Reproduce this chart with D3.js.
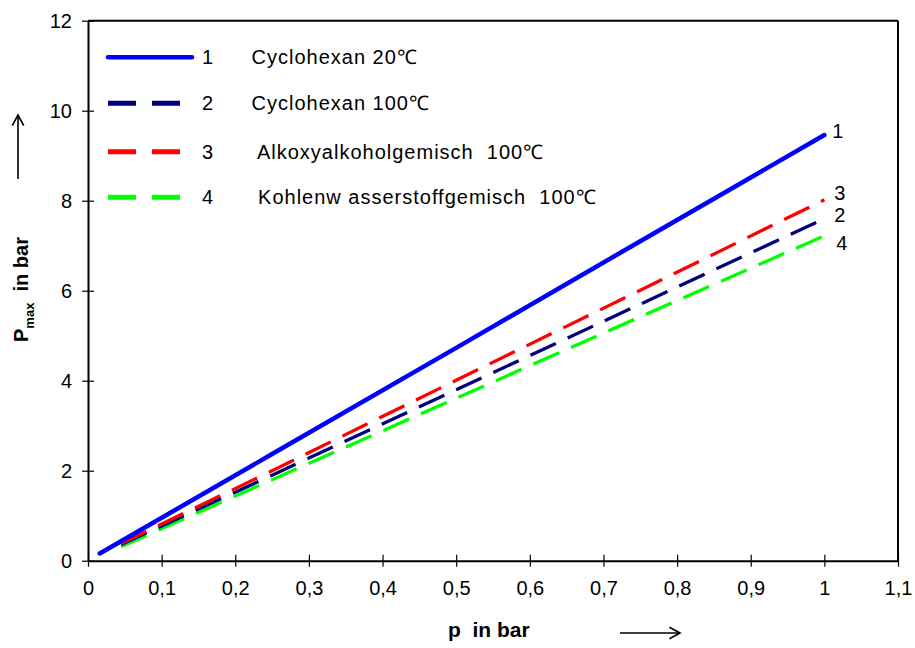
<!DOCTYPE html>
<html>
<head>
<meta charset="utf-8">
<script src="https://cdn.jsdelivr.net/npm/d3@7"></script>
<style>
  html, body { margin: 0; padding: 0; background: #fff; }
  svg { display: block; font-family: "Liberation Sans", Arial, sans-serif; }
</style>
</head>
<body>
<svg id="chart" width="915" height="648"></svg>
<script>
// Pressure values p (bar) for each curve
const pLine1 = [0.016, 0.25, 0.5, 0.75, 1.0];
const pLine2 = [0.045, 0.25, 0.5, 0.75, 1.0];
const pLine3 = [0.045, 0.25, 0.5, 0.75, 1.0];
const pLine4 = [0.045, 0.25, 0.5, 0.75, 1.0];

// Maximum explosion pressure P_max (bar)
const pmax1 = [0.16, 2.37, 4.73, 7.10, 9.46];
const pmax2 = [0.36, 1.90, 3.80, 5.70, 7.60];
const pmax3 = [0.38, 2.00, 4.01, 6.01, 8.02];
const pmax4 = [0.31, 1.80, 3.61, 5.42, 7.22];

const seriesNumbers = ["1", "2", "3", "4"];
const seriesNames = ["Cyclohexan 20\u2103", "Cyclohexan 100\u2103",
                     " Alkoxyalkoholgemisch  100\u2103", " Kohlenw asserstoffgemisch  100\u2103"];
const seriesColors = ["#0000ff", "#000080", "#ff0000", "#00ff00"];
const seriesDashed = [false, true, true, true];

const xTicks = [0, 0.1, 0.2, 0.3, 0.4, 0.5, 0.6, 0.7, 0.8, 0.9, 1.0, 1.1];
const xTickLabels = ["0", "0,1", "0,2", "0,3", "0,4", "0,5", "0,6", "0,7", "0,8", "0,9", "1", "1,1"];
const yTicks = [0, 2, 4, 6, 8, 10, 12];

const series = [
  { p: pLine1, v: pmax1 },
  { p: pLine2, v: pmax2 },
  { p: pLine3, v: pmax3 },
  { p: pLine4, v: pmax4 }
].map((s, i) => ({
  num: seriesNumbers[i], name: seriesNames[i], color: seriesColors[i], dashed: seriesDashed[i],
  points: s.p.map((p, j) => ({ p, v: s.v[j] }))
}));

const svg = d3.select("#chart");
const plotLeft = 88, plotRight = 898, plotTop = 20.7, plotBottom = 560.7;

const x = d3.scaleLinear().domain([0, 1.1]).range([plotLeft, plotRight]);
const y = d3.scaleLinear().domain([0, 12]).range([plotBottom, plotTop]);

// Frame: top and right border
svg.append("line").attr("x1", plotLeft).attr("x2", plotRight).attr("y1", plotTop).attr("y2", plotTop)
  .attr("stroke", "#000").attr("stroke-width", 2);
svg.append("line").attr("x1", plotRight).attr("x2", plotRight).attr("y1", plotTop).attr("y2", plotBottom)
  .attr("stroke", "#000").attr("stroke-width", 2);

// X axis
const xAxis = d3.axisBottom(x).tickValues(xTicks)
  .tickFormat((d, i) => xTickLabels[i]).tickSize(6).tickPadding(22).tickSizeOuter(0);
const gx = svg.append("g").attr("transform", `translate(0,${plotBottom})`).call(xAxis);
gx.select(".domain").attr("stroke-width", 2);
gx.selectAll(".tick line").attr("y1", -6).attr("y2", 6).attr("stroke-width", 1.2);
gx.selectAll(".tick text").attr("font-size", 20).attr("font-family", "Liberation Sans, Arial, sans-serif")
  .attr("fill", "#000").attr("dy", "0.71em").attr("y", 20);

// Y axis
const yAxis = d3.axisLeft(y).tickValues(yTicks).tickSize(6).tickPadding(16).tickSizeOuter(0);
const gy = svg.append("g").attr("transform", `translate(${plotLeft},0)`).call(yAxis);
gy.select(".domain").attr("stroke-width", 2);
gy.selectAll(".tick line").attr("x1", -6).attr("x2", 6).attr("stroke-width", 1.2);
gy.selectAll(".tick text").attr("font-size", 20).attr("font-family", "Liberation Sans, Arial, sans-serif")
  .attr("fill", "#000").attr("x", -16);

// Curves
const line = d3.line().x(d => x(d.p)).y(d => y(d.v));
const order = [3, 1, 2, 0];
order.forEach(i => {
  const s = series[i];
  svg.append("path").datum(s.points)
    .attr("d", line)
    .attr("fill", "none")
    .attr("stroke", s.color)
    .attr("stroke-width", s.dashed ? 3.3 : 4.5)
    .attr("stroke-linecap", s.dashed ? "butt" : "round")
    .attr("stroke-dasharray", s.dashed ? "28,13" : null);
});

// End labels next to the curves
const endDx = [8, 10, 10, 12];
const endDy = [-4.5, -3.5, -7, 7];
series.forEach((s, i) => {
  const last = s.points[s.points.length - 1];
  svg.append("text")
    .attr("x", x(last.p) + endDx[i])
    .attr("y", y(last.v) + endDy[i])
    .attr("dy", "0.35em")
    .attr("font-size", 20)
    .attr("fill", "#000")
    .text(s.num);
});

// Legend
const legY = [57.3, 103.3, 151.7, 197.3];
series.forEach((s, i) => {
  const g = svg.append("g");
  g.append("line")
    .attr("x1", 108).attr("x2", s.dashed ? 181 : 192)
    .attr("y1", legY[i]).attr("y2", legY[i])
    .attr("stroke", s.color)
    .attr("stroke-width", s.dashed ? 5 : 4.5)
    .attr("stroke-linecap", s.dashed ? "butt" : "round")
    .attr("stroke-dasharray", s.dashed ? "28,16" : null);
  g.append("text").attr("x", 202).attr("y", legY[i]).attr("dy", "0.35em")
    .attr("font-size", 20).attr("fill", "#000").text(s.num);
  g.append("text").attr("x", 251.5).attr("y", legY[i]).attr("dy", "0.35em")
    .attr("font-size", 20).attr("fill", "#000").attr("letter-spacing", 1)
    .style("white-space", "pre").text(s.name);
});

// Axis titles
svg.append("text").attr("x", 448).attr("y", 637)
  .attr("font-size", 21).attr("font-weight", "bold").attr("fill", "#000")
  .style("white-space", "pre").text("p  in bar");

const yt = svg.append("text")
  .attr("transform", "translate(27.5,342) rotate(-90)")
  .attr("font-size", 20).attr("font-weight", "bold").attr("fill", "#000")
  .style("white-space", "pre");
yt.append("tspan").text("P");
yt.append("tspan").attr("font-size", 13).attr("dy", 6).text("max");
yt.append("tspan").attr("dy", -6).text("  in bar");

// Direction arrows
function arrow(x1, y1, x2, y2) {
  const g = svg.append("g").attr("stroke", "#000").attr("stroke-width", 1.6).attr("fill", "none");
  g.append("line").attr("x1", x1).attr("y1", y1).attr("x2", x2).attr("y2", y2);
  const a = Math.atan2(y2 - y1, x2 - x1), L = 12, w = 0.5;
  g.append("polyline").attr("points", [
    [x2 - L * Math.cos(a - w), y2 - L * Math.sin(a - w)],
    [x2, y2],
    [x2 - L * Math.cos(a + w), y2 - L * Math.sin(a + w)]
  ].map(p => p.join(",")).join(" "));
}
arrow(18, 179, 18, 115);
arrow(620, 633, 680, 633);
</script>
</body>
</html>
